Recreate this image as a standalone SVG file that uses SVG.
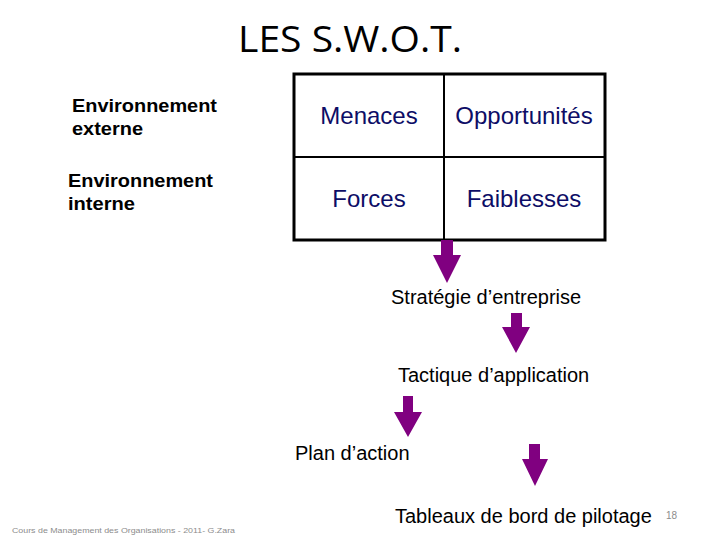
<svg xmlns="http://www.w3.org/2000/svg" width="720" height="540" viewBox="0 0 720 540">
<style>
.t{font-family:"Liberation Sans",Arial,sans-serif;fill:#000}
.env{font-weight:bold;font-size:19px}
.cell{font-size:24px;fill:#0d0d66;text-anchor:middle}
.step{font-size:20px}
.arr{fill:#800080}
</style>
<rect width="720" height="540" fill="#fff"/>
<text class="t" x="350" y="52" font-size="36" text-anchor="middle" textLength="224" lengthAdjust="spacingAndGlyphs" style="font-family:'Open Sans','Liberation Sans',sans-serif">LES S.W.O.T.</text>
<g id="env-externe">
<text class="t env" x="72" y="112" textLength="145" lengthAdjust="spacingAndGlyphs">Environnement</text>
<text class="t env" x="72" y="135" textLength="71" lengthAdjust="spacingAndGlyphs">externe</text>
</g>
<g id="env-interne">
<text class="t env" x="68" y="187" textLength="145" lengthAdjust="spacingAndGlyphs">Environnement</text>
<text class="t env" x="68" y="210" textLength="67" lengthAdjust="spacingAndGlyphs">interne</text>
</g>
<g id="swot-table">
<rect x="294" y="74" width="311" height="166" fill="none" stroke="#000" stroke-width="3"/>
<line x1="444" y1="74" x2="444" y2="240" stroke="#000" stroke-width="2"/>
<line x1="294" y1="157" x2="605" y2="157" stroke="#000" stroke-width="2"/>
<text class="t cell" x="369" y="124">Menaces</text>
<text class="t cell" x="524" y="124">Opportunités</text>
<text class="t cell" x="369" y="207">Forces</text>
<text class="t cell" x="524" y="207">Faiblesses</text>
</g>
<g id="strategie"><text class="t step" x="391" y="304">Stratégie d’entreprise</text></g>
<g id="tactique"><text class="t step" x="398" y="382">Tactique d’application</text></g>
<g id="plan"><text class="t step" x="295" y="460">Plan d’action</text></g>
<g id="tableaux"><text class="t step" x="395" y="523">Tableaux de bord de pilotage</text></g>
<g id="connectors">
<polygon class="arr" points="441,240 453,240 453,255 461,255 447,283 433,255 441,255"/>
<polygon class="arr" points="511,313 522,313 522,327 530,327 516,353 502,327 511,327"/>
<polygon class="arr" points="403,396 413,396 413,412 422,412 408,437 394,412 403,412"/>
<polygon class="arr" points="529,444 540,444 540,459 548,459 535,486 522,459 529,459"/>
</g>
<text class="t" x="666" y="519" font-size="10" style="fill:#8c8c8c">18</text>
<text class="t" x="12" y="533" font-size="8" textLength="223" lengthAdjust="spacingAndGlyphs" style="fill:#8c8c8c">Cours de Management des Organisations - 2011- G.Zara</text>
</svg>
